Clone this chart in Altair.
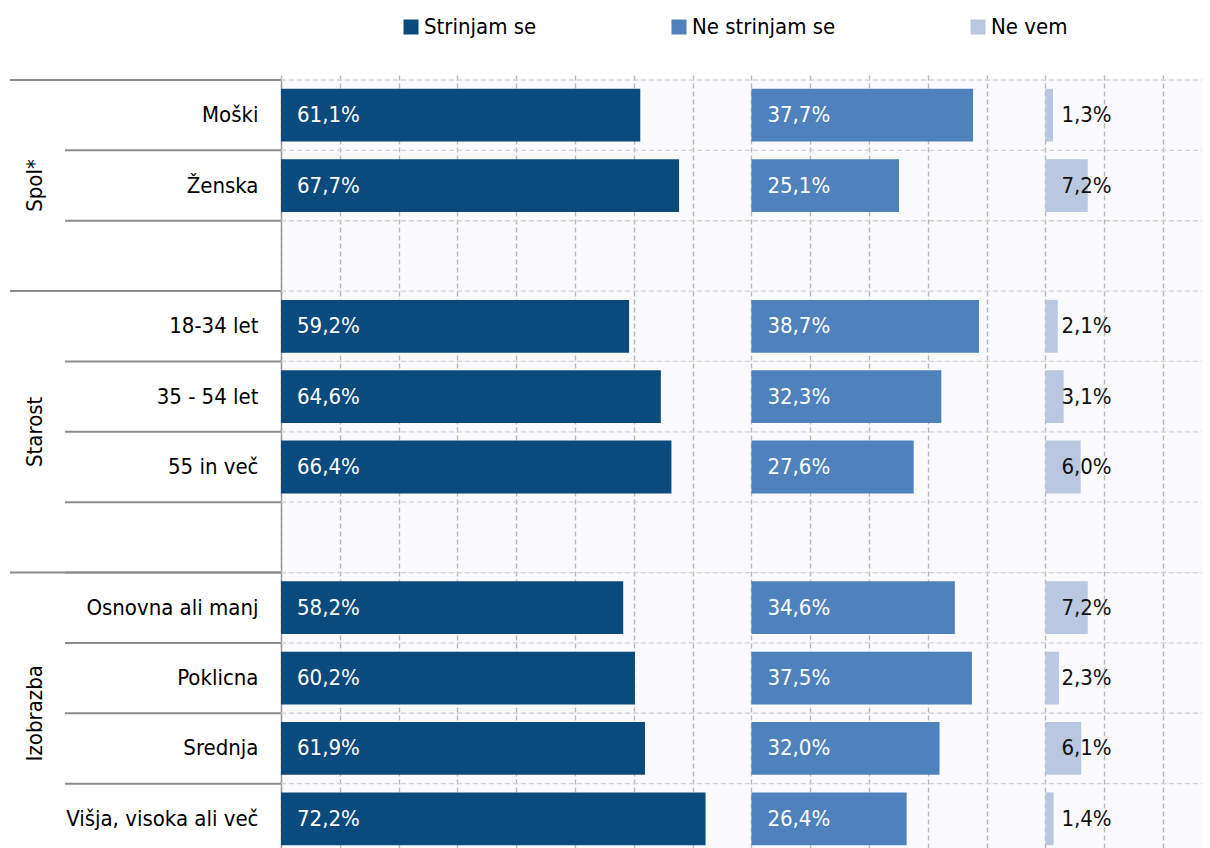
import altair as alt
import pandas as pd

# ---- data ----
rows = ["Moški", "Ženska", " ", "18-34 let", "35 - 54 let", "55 in več", "  ",
        "Osnovna ali manj", "Poklicna", "Srednja", "Višja, visoka ali več"]
data_rows = ["Moški", "Ženska", "18-34 let", "35 - 54 let", "55 in več",
             "Osnovna ali manj", "Poklicna", "Srednja", "Višja, visoka ali več"]
series = ["Strinjam se", "Ne strinjam se", "Ne vem"]
strinjam = [61.1, 67.7, 59.2, 64.6, 66.4, 58.2, 60.2, 61.9, 72.2]
ne_strinjam = [37.7, 25.1, 38.7, 32.3, 27.6, 34.6, 37.5, 32.0, 26.4]
ne_vem = [1.3, 7.2, 2.1, 3.1, 6.0, 7.2, 2.3, 6.1, 1.4]
offsets = [0, 80, 130]          # where each series block starts on the value axis
colors = ["#0B4A7C", "#4F81BD", "#B9C7E0"]
label_colors = ["#FFFFFF", "#FFFFFF", "#111111"]
groups = ["Spol*", "Starost", "Izobrazba"]
group_first_rows = ["Moški", "18-34 let", "Osnovna ali manj"]
group_center_rows = ["Ženska", "55 in več", "Srednja"]
group_center_band = [0.5, 0.0, 0.0]

recs = []
for s, vals, off, lc in zip(series, [strinjam, ne_strinjam, ne_vem], offsets, label_colors):
    for r, v in zip(data_rows, vals):
        recs.append({"row": r, "series": s, "start": off, "end": off + v,
                     "label": f"{v:.1f}".replace(".", ",") + "%", "lc": lc})
df = pd.DataFrame(recs)
rows_df = pd.DataFrame({"row": rows})
gfirst_df = pd.DataFrame({"row": group_first_rows})
gdf = pd.DataFrame({"group": groups, "row": group_center_rows, "band": group_center_band})

FONT = "Liberation Sans Narrow, Arial Narrow, DejaVu Sans Condensed, Liberation Sans, sans-serif"
FS = 22

W = 921
PX_PER_PCT = 5.88
yscale = alt.Scale(domain=rows, range=[0, 774], paddingInner=0, paddingOuter=0)
xscale = alt.Scale(domain=[0, W / PX_PER_PCT], nice=False, zero=False)

x_axis = alt.Axis(values=list(range(0, 160, 10)), labels=False, ticks=False, domain=False,
                  title=None, grid=True, gridColor="#B8B8B8", gridDash=[5, 3], gridWidth=1.4)
y_axis = alt.Axis(title=None, ticks=False, grid=False, domain=True, domainColor="#9A9A9A",
                  domainWidth=1.5, labelFont=FONT, labelFontSize=FS, labelColor="#000000",
                  labelPadding=23, labelLimit=300)

bars = alt.Chart(df).mark_bar(height={"band": 0.75}).encode(
    x=alt.X("start:Q", scale=xscale, axis=x_axis),
    x2="end:Q",
    y=alt.Y("row:N", scale=yscale, axis=y_axis, sort=rows),
    color=alt.Color("series:N", scale=alt.Scale(domain=series, range=colors),
                    legend=alt.Legend(title=None, orient="none", direction="horizontal",
                                      legendX=119, legendY=-64, symbolType="square",
                                      symbolSize=225, symbolStrokeWidth=0,
                                      labelFont=FONT, labelFontSize=FS, labelColor="#000000",
                                      labelOffset=2, columnPadding=131, padding=0,
                                      labelLimit=400)),
)

hgrid = alt.Chart(rows_df).mark_rule(color="#D3D3D3", strokeDash=[5, 3], strokeWidth=1.3).encode(
    y=alt.Y("row:N", scale=yscale, bandPosition=0),
    x=alt.value(0), x2=alt.value(W),
)

row_sep = alt.Chart(rows_df).mark_rule(color="#8C8C8C", strokeWidth=2, clip=False).encode(
    y=alt.Y("row:N", scale=yscale, bandPosition=0),
    x=alt.value(-216), x2=alt.value(0),
)

group_sep = alt.Chart(gfirst_df).mark_rule(color="#8C8C8C", strokeWidth=2, clip=False).encode(
    y=alt.Y("row:N", scale=yscale, bandPosition=0),
    x=alt.value(-271), x2=alt.value(0),
)

labels = alt.Chart(df).mark_text(align="left", baseline="middle", dx=16, font=FONT,
                                 fontSize=FS).encode(
    x=alt.X("start:Q", scale=xscale),
    y=alt.Y("row:N", scale=yscale),
    text="label:N",
    color=alt.Color("lc:N", scale=None),
)

glab1 = alt.Chart(gdf[gdf["band"] == 0.5]).mark_text(
    angle=270, align="center", baseline="middle", font=FONT, fontSize=FS, color="#000000",
    clip=False).encode(
    y=alt.Y("row:N", scale=yscale, bandPosition=0.5),
    x=alt.value(-246), text="group:N",
)
glab0 = alt.Chart(gdf[gdf["band"] == 0.0]).mark_text(
    angle=270, align="center", baseline="middle", font=FONT, fontSize=FS, color="#000000",
    clip=False).encode(
    y=alt.Y("row:N", scale=yscale, bandPosition=0),
    x=alt.value(-246), text="group:N",
)

chart = alt.layer(hgrid, bars, labels, row_sep, group_sep, glab1, glab0).properties(
    width=W, height=768,
    autosize=alt.AutoSizeParams(type="none"),
    padding={"left": 273, "top": 72, "right": 0, "bottom": 0},
).configure_view(fill="#FAFAFC", stroke=None).configure_axis(labelFont=FONT)

chart.save("out.html", embed_options={"renderer": "svg", "actions": False})
